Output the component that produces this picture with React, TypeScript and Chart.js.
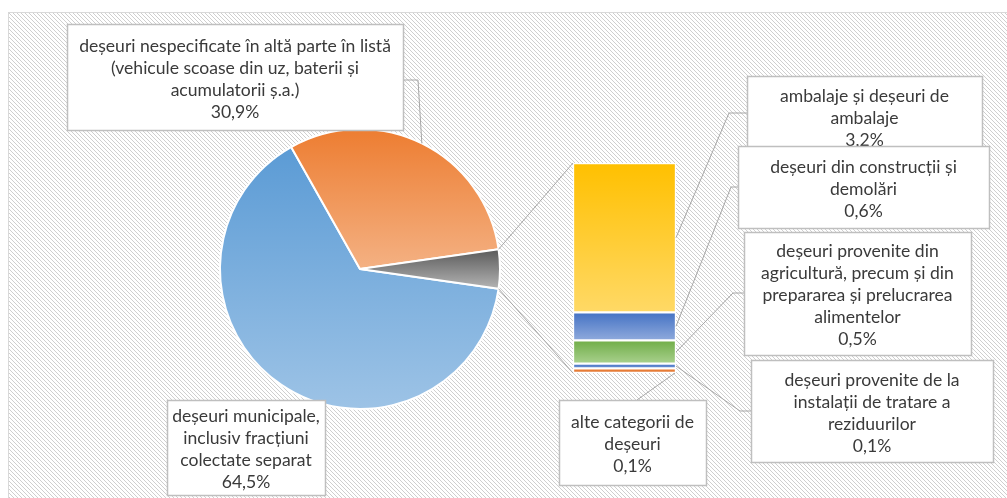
import React, { useEffect, useRef } from 'react';
import { Chart, registerables } from 'chart.js';

Chart.register(...registerables);

// ---------- DATA ----------
const pieCategories: string[][] = [
  ['deșeuri municipale,', 'inclusiv fracțiuni', 'colectate separat'],
  ['deșeuri nespecificate în altă parte în listă', '(vehicule scoase din uz, baterii și', 'acumulatorii ș.a.)'],
];
const pieValues: number[] = [64.5, 30.9];

const barCategories: string[][] = [
  ['ambalaje și deșeuri de', 'ambalaje'],
  ['deșeuri din construcții și', 'demolări'],
  ['deșeuri provenite din', 'agricultură, precum și din', 'prepararea și prelucrarea', 'alimentelor'],
  ['deșeuri provenite de la', 'instalații de tratare a', 'reziduurilor'],
  ['alte categorii de', 'deșeuri'],
];
const barValues: number[] = [3.2, 0.6, 0.5, 0.1, 0.1];

// ---------- STYLE / LAYOUT ----------
const W = 1007;
const H = 498;
const pieColors: string[][] = [
  ['#5B9BD5', '#9DC3E6'],
  ['#ED7D31', '#F4B183'],
  ['#5A5A5A', '#B4B4B4'],
];
const barColors: string[][] = [
  ['#FFC000', '#FFD966'],
  ['#4472C4', '#8FAADC'],
  ['#70AD47', '#A9D18E'],
  ['#4472C4', '#7396D6'],
  ['#ED7D31', '#E07B3C'],
];
const PIE_AREA = { left: 219, top: 128, right: 501, bottom: 410 };
const BAR_AREA = { left: 573, top: 163, right: 676, bottom: 373 };

type Box = { x: number; y: number; w: number; h: number };
const pieBoxes: Box[] = [
  { x: 167, y: 400, w: 158, h: 95 },
  { x: 67, y: 24, w: 336, h: 106 },
];
const barBoxes: Box[] = [
  { x: 747, y: 76, w: 235, h: 80 },
  { x: 738, y: 146, w: 251, h: 82 },
  { x: 744, y: 232, w: 227, h: 123 },
  { x: 751, y: 360, w: 242, h: 102 },
  { x: 559, y: 400, w: 147, h: 85 },
];
// leader elbows for bar labels: [elbowX, y]
const barElbows: number[][] = [
  [729, 113],
  [731, 187],
  [733, 293],
  [740, 411],
];

const otherTotal = barValues.reduce((a, b) => a + b, 0);
const pieAll = [...pieValues, otherTotal];
const pieTotal = pieAll.reduce((a, b) => a + b, 0);
const rotation = 90 + (otherTotal / pieTotal) * 180;

const fmt = (v: number) => v.toFixed(1).replace('.', ',') + '%';
const fin = (...v: number[]) => v.every((x) => Number.isFinite(x));

function pieGradient(c: any) {
  const i = c.dataIndex;
  if (c.type !== 'data' || i === undefined) return '#cccccc';
  const cols = pieColors[i];
  const chart = c.chart;
  const area = chart.chartArea;
  if (!area) return cols[0];
  const cx = (area.left + area.right) / 2;
  const cy = (area.top + area.bottom) / 2;
  const r = (Math.min(area.right - area.left, area.bottom - area.top) - 2) / 2;
  if (!fin(cx, cy, r)) return cols[0];
  let a = ((rotation - 90) * Math.PI) / 180;
  for (let j = 0; j < i; j++) a += (pieAll[j] / pieTotal) * Math.PI * 2;
  const b = a + (pieAll[i] / pieTotal) * Math.PI * 2;
  let minY = cy;
  let maxY = cy;
  for (let t = 0; t <= 90; t++) {
    const th = a + ((b - a) * t) / 90;
    const y = cy + r * Math.sin(th);
    minY = Math.min(minY, y);
    maxY = Math.max(maxY, y);
  }
  if (!fin(minY, maxY) || maxY - minY < 1) return cols[0];
  const g = chart.ctx.createLinearGradient(0, minY, 0, maxY);
  g.addColorStop(0, cols[0]);
  g.addColorStop(1, cols[1]);
  return g;
}

function barGradient(c: any) {
  const i = c.datasetIndex;
  const cols = barColors[i] || barColors[0];
  const y = c.chart.scales && c.chart.scales.y;
  if (!y || c.type !== 'data') return cols[0];
  let s = 0;
  for (let j = 0; j < i; j++) s += barValues[j];
  const p0 = y.getPixelForValue(s);
  const p1 = y.getPixelForValue(s + barValues[i]);
  if (!fin(p0, p1) || Math.abs(p1 - p0) < 0.5) return cols[0];
  const g = c.chart.ctx.createLinearGradient(0, Math.min(p0, p1), 0, Math.max(p0, p1));
  g.addColorStop(0, cols[0]);
  g.addColorStop(1, cols[1]);
  return g;
}

const backgroundPlugin = {
  id: 'bgHatch',
  beforeDraw(chart: any) {
    const ctx = chart.ctx as CanvasRenderingContext2D;
    ctx.save();
    ctx.fillStyle = '#ffffff';
    ctx.fillRect(0, 0, W, H);
    const tile = document.createElement('canvas');
    tile.width = 4;
    tile.height = 4;
    const t = tile.getContext('2d')!;
    t.fillStyle = '#ffffff';
    t.fillRect(0, 0, 4, 4);
    t.fillStyle = '#cfcfcf';
    for (let k = 0; k < 4; k++) t.fillRect(k, k, 1, 1);
    const pat = ctx.createPattern(tile, 'repeat');
    ctx.fillStyle = pat || '#f2f2f2';
    ctx.fillRect(8, 12, W - 8, H - 12);
    ctx.strokeStyle = '#D9D9D9';
    ctx.lineWidth = 1;
    ctx.beginPath();
    ctx.moveTo(8.5, H);
    ctx.lineTo(8.5, 12.5);
    ctx.lineTo(W, 12.5);
    ctx.stroke();
    ctx.restore();
  },
};

function drawBox(ctx: CanvasRenderingContext2D, b: Box, lines: string[], fs: number) {
  ctx.fillStyle = '#ffffff';
  ctx.fillRect(b.x, b.y, b.w, b.h);
  ctx.strokeStyle = '#BFBFBF';
  ctx.lineWidth = 1.5;
  ctx.strokeRect(b.x + 0.5, b.y + 0.5, b.w, b.h);
  ctx.fillStyle = '#3a3a3a';
  ctx.font = `${fs}px Lato`;
  ctx.textAlign = 'center';
  ctx.textBaseline = 'middle';
  const lh = 22;
  const y0 = b.y + b.h / 2 - ((lines.length - 1) * lh) / 2 + 2;
  lines.forEach((l, k) => ctx.fillText(l, b.x + b.w / 2, y0 + k * lh));
}

function makeOverlay(pie: Chart) {
  return {
    id: 'overlay',
    afterDraw(chart: any) {
      const ctx = chart.ctx as CanvasRenderingContext2D;
      ctx.save();
      ctx.font = '16px Lato';
      const m = ctx.measureText(pieCategories[1][0]).width;
      const fs = m > 0 ? (16 * 312) / m : 16;

      const arcs = pie.getDatasetMeta(0).data as any[];
      const bars = barValues.map((_, i) => chart.getDatasetMeta(i).data[0] as any);
      const seg = bars.map((b) => {
        const p = b.getProps(['x', 'y', 'base', 'width'], true);
        return {
          left: p.x - p.width / 2,
          right: p.x + p.width / 2,
          top: Math.min(p.y, p.base),
          bottom: Math.max(p.y, p.base),
        };
      });
      const barLeft = seg[0].left;
      const barTop = seg[0].top;
      const barBottom = seg[seg.length - 1].bottom;

      ctx.strokeStyle = '#A6A6A6';
      ctx.lineWidth = 1;

      // pie "other" slice to bar
      const o = arcs[2].getProps(['x', 'y', 'startAngle', 'endAngle', 'outerRadius'], true);
      ctx.beginPath();
      ctx.moveTo(o.x + o.outerRadius * Math.cos(o.startAngle), o.y + o.outerRadius * Math.sin(o.startAngle));
      ctx.lineTo(barLeft, barTop);
      ctx.moveTo(o.x + o.outerRadius * Math.cos(o.endAngle), o.y + o.outerRadius * Math.sin(o.endAngle));
      ctx.lineTo(barLeft, barBottom);
      ctx.stroke();

      // leader for nespecificate slice
      const a1 = arcs[1].getProps(['x', 'y', 'startAngle', 'endAngle', 'outerRadius'], true);
      const mid = (a1.startAngle + a1.endAngle) / 2;
      const b1 = pieBoxes[1];
      ctx.beginPath();
      ctx.moveTo(b1.x + b1.w, 80);
      ctx.lineTo(418, 80);
      ctx.lineTo(a1.x + a1.outerRadius * Math.cos(mid), a1.y + a1.outerRadius * Math.sin(mid));
      ctx.stroke();

      // leaders for bar labels
      barElbows.forEach((e, i) => {
        const s = seg[i];
        const b = barBoxes[i];
        ctx.beginPath();
        ctx.moveTo(b.x, e[1]);
        ctx.lineTo(e[0], e[1]);
        ctx.lineTo(s.right, (s.top + s.bottom) / 2);
        ctx.stroke();
      });
      const last = seg[seg.length - 1];
      const lb = barBoxes[barBoxes.length - 1];
      ctx.beginPath();
      ctx.moveTo(637, lb.y);
      ctx.lineTo(last.right - 1, last.bottom);
      ctx.stroke();

      // boxes
      pieBoxes.forEach((b, i) => drawBox(ctx, b, [...pieCategories[i], fmt(pieValues[i])], fs));
      barBoxes.forEach((b, i) => drawBox(ctx, b, [...barCategories[i], fmt(barValues[i])], fs));
      ctx.restore();
    },
  };
}

export default function App() {
  const pieRef = useRef<HTMLCanvasElement>(null);
  const barRef = useRef<HTMLCanvasElement>(null);

  useEffect(() => {
    const pie = new Chart(pieRef.current!, {
      type: 'pie',
      data: {
        labels: [...pieCategories.map((l) => l.join(' ')), 'Altele'],
        datasets: [
          {
            data: pieAll,
            backgroundColor: pieGradient as any,
            borderColor: '#ffffff',
            borderWidth: 2,
          },
        ],
      },
      options: {
        responsive: false,
        animation: false,
        devicePixelRatio: 1,
        rotation,
        events: [],
        layout: {
          padding: {
            left: PIE_AREA.left,
            right: W - PIE_AREA.right,
            top: PIE_AREA.top,
            bottom: H - PIE_AREA.bottom,
          },
        },
        plugins: { legend: { display: false }, tooltip: { enabled: false } },
      },
      plugins: [backgroundPlugin],
    });

    const bar = new Chart(barRef.current!, {
      type: 'bar',
      data: {
        labels: ['Altele'],
        datasets: barCategories.map((l, i) => ({
          label: l.join(' '),
          data: [barValues[i]],
          backgroundColor: barGradient as any,
          borderColor: '#ffffff',
          borderWidth: 1.5,
          borderSkipped: false,
          barPercentage: 1,
          categoryPercentage: 1,
        })),
      },
      options: {
        responsive: false,
        animation: false,
        devicePixelRatio: 1,
        events: [],
        layout: {
          padding: {
            left: BAR_AREA.left,
            right: W - BAR_AREA.right,
            top: BAR_AREA.top,
            bottom: H - BAR_AREA.bottom,
          },
        },
        scales: {
          x: { display: false, stacked: true },
          y: { display: false, stacked: true, reverse: true, min: 0, max: otherTotal },
        },
        plugins: { legend: { display: false }, tooltip: { enabled: false } },
      },
      plugins: [makeOverlay(pie)],
    });

    return () => {
      bar.destroy();
      pie.destroy();
    };
  }, []);

  const style: React.CSSProperties = { position: 'absolute', left: 0, top: 0, width: W, height: H };
  return (
    <div>
      <canvas ref={pieRef} width={W} height={H} style={style} />
      <canvas ref={barRef} width={W} height={H} style={style} />
    </div>
  );
}
